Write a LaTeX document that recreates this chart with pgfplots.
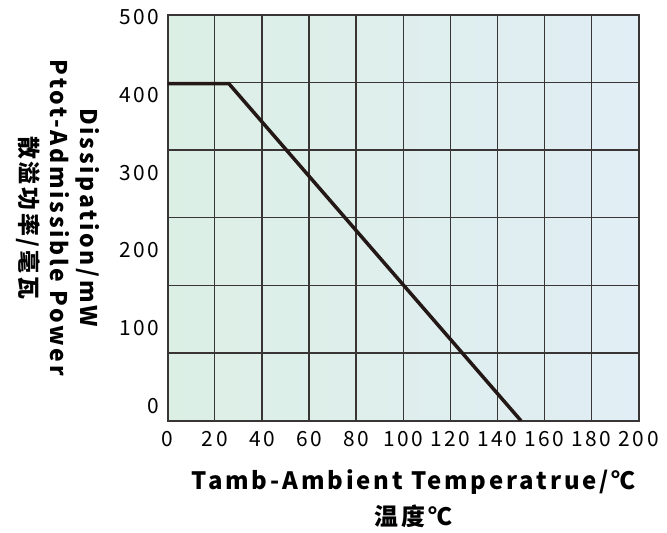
\documentclass[border=0pt]{standalone}
\usepackage{pgfplots}
\pgfplotsset{compat=1.18}
\usepackage{fontspec}
\setmainfont[LetterSpace=12]{Noto Sans CJK SC}

\definecolor{bgleft}{HTML}{DCEFE5}
\definecolor{bgright}{HTML}{E1EEF5}
\definecolor{gridc}{HTML}{3A3535}
\definecolor{curve}{HTML}{231815}

\begin{document}
\begin{tikzpicture}
\begin{axis}[
    at={(0,0)}, anchor=south west,
    width=471bp, height=406bp,
    scale only axis,
    xmin=0, xmax=200,
    ymin=0, ymax=500,
    xtick={0,20,...,200},
    % labels sit a little off the grid rows, as in the source
    ytick={17.9,113.8,209.7,305.6,401.5,497.4},
    yticklabels={0,100,200,300,400,500},
    minor ytick={83.333,166.667,250,333.333,416.667},
    xmajorgrids, ymajorgrids=false, yminorgrids,
    major tick length=0, minor tick length=0,
    grid style={gridc, line width=1.3bp},
    minor grid style={gridc, line width=1.3bp},
    axis line style={gridc, line width=2bp},
    axis background/.style={left color=bgleft, right color=bgright},
    tick label style={font=\fontsize{21}{24}\selectfont, text=black},
    xticklabel style={yshift=-7bp},
    yticklabel style={xshift=-5bp},
    /pgf/number format/assume math mode=true,
]
\addplot[curve, line width=3.5bp] coordinates {
    (0,415) (26,415) (150,0)
};
\end{axis}
\path (0,203bp) ++(-110bp,0) node[rotate=-90, align=center,
    font=\fontsize{23}{30}\selectfont\bfseries]
    {Dissipation/mW\\Ptot-Admissible Power\\散溢功率/毫瓦};
\path (246bp,-78bp) node[align=center,
    font=\fontsize{24}{36}\selectfont\bfseries]
    {Tamb-Ambient Temperatrue/℃\\温度℃};
\pgfresetboundingbox
\path (-167.7bp,-112bp) rectangle (499.3bp,420.7bp);
\end{tikzpicture}
\end{document}
